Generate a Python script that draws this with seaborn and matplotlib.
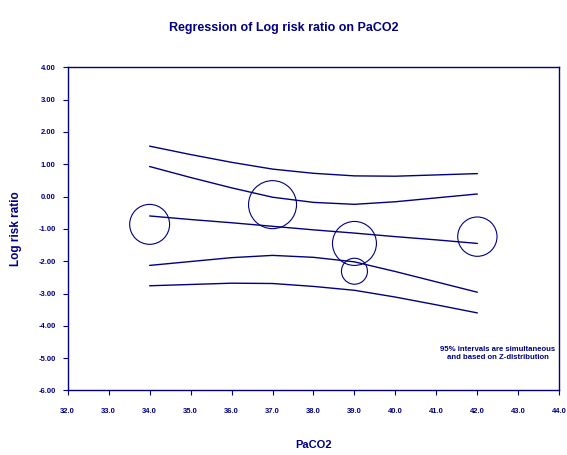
import numpy as np
import pandas as pd
import matplotlib
matplotlib.use("Agg")
import matplotlib.pyplot as plt
import seaborn as sns

# studies (bubbles): PaCO2, log risk ratio, relative weight (%)
study_x = [34.0, 37.0, 39.0, 39.0, 42.0]
study_y = [-0.86, -0.25, -1.45, -2.31, -1.24]
study_w = [19.8, 28.6, 24.0, 8.4, 19.2]

# regression line and 95% bands read at each integer PaCO2
line_x = [34, 35, 36, 37, 38, 39, 40, 41, 42]
reg_y = [-0.60, -0.71, -0.81, -0.92, -1.03, -1.13, -1.24, -1.34, -1.45]
ci_hi = [0.93, 0.59, 0.27, -0.02, -0.18, -0.24, -0.16, -0.04, 0.08]
ci_lo = [-2.13, -2.01, -1.89, -1.82, -1.88, -2.02, -2.32, -2.64, -2.96]
pi_hi = [1.56, 1.30, 1.06, 0.85, 0.72, 0.64, 0.63, 0.67, 0.71]
pi_lo = [-2.76, -2.72, -2.68, -2.69, -2.78, -2.90, -3.11, -3.35, -3.60]

x_ticks = [32, 33, 34, 35, 36, 37, 38, 39, 40, 41, 42, 43, 44]
y_ticks = [-6, -5, -4, -3, -2, -1, 0, 1, 2, 3, 4]

navy = "#000080"

sns.set_theme(style="white")
plt.rcParams["font.family"] = ["Liberation Sans", "DejaVu Sans"]
plt.rcParams["axes.unicode_minus"] = False

fig = plt.figure(figsize=(5.67, 4.55), dpi=100)
ax = fig.add_axes([0.1194, 0.1418, 0.8670, 0.7103])

for ys in [reg_y, ci_hi, ci_lo, pi_hi, pi_lo]:
    sns.lineplot(x=line_x, y=ys, color=navy, linewidth=1.0, ax=ax)

studies = pd.DataFrame({"x": study_x, "y": study_y, "w": study_w})
sns.scatterplot(data=studies, x="x", y="y", size="w", sizes=(350, 1194),
                facecolors="none", edgecolors=navy, linewidth=0.8,
                legend=False, ax=ax, zorder=3)

ax.set_xlim(32, 44)
ax.set_ylim(-6, 4)
ax.set_xticks(x_ticks)
ax.set_xticklabels([f"{v:.1f}" for v in x_ticks])
ax.set_yticks(y_ticks)
ax.set_yticklabels([f"{v:.2f}" for v in y_ticks])
ax.tick_params(axis="both", direction="out", length=3.5, width=0.8,
               color=navy, labelsize=5.5, labelcolor=navy,
               bottom=True, left=True)
ax.tick_params(axis="x", pad=9)
ax.tick_params(axis="y", pad=5)
for lab in ax.get_xticklabels() + ax.get_yticklabels():
    lab.set_fontweight("bold")
for sp in ax.spines.values():
    sp.set_color(navy)
    sp.set_linewidth(1.0)

ax.set_xlabel("PaCO2", fontsize=8, fontweight="bold", color=navy, va="center")
ax.xaxis.set_label_coords(0.5, -0.169)
ax.set_ylabel("Log risk ratio", fontsize=8.5, fontweight="bold", color=navy, va="center")
ax.yaxis.set_label_coords(-0.105, 0.5)

fig.text(0.5, 1 - 28 / 455, "Regression of Log risk ratio on PaCO2",
         ha="center", va="center", fontsize=9, fontweight="bold", color=navy)
ax.text(42.5, -4.85, "95% intervals are simultaneous\nand based on Z-distribution",
        ha="center", va="center", fontsize=5.6, fontweight="bold", color=navy,
        linespacing=1.3)

plt.savefig("out.png", dpi=100)
